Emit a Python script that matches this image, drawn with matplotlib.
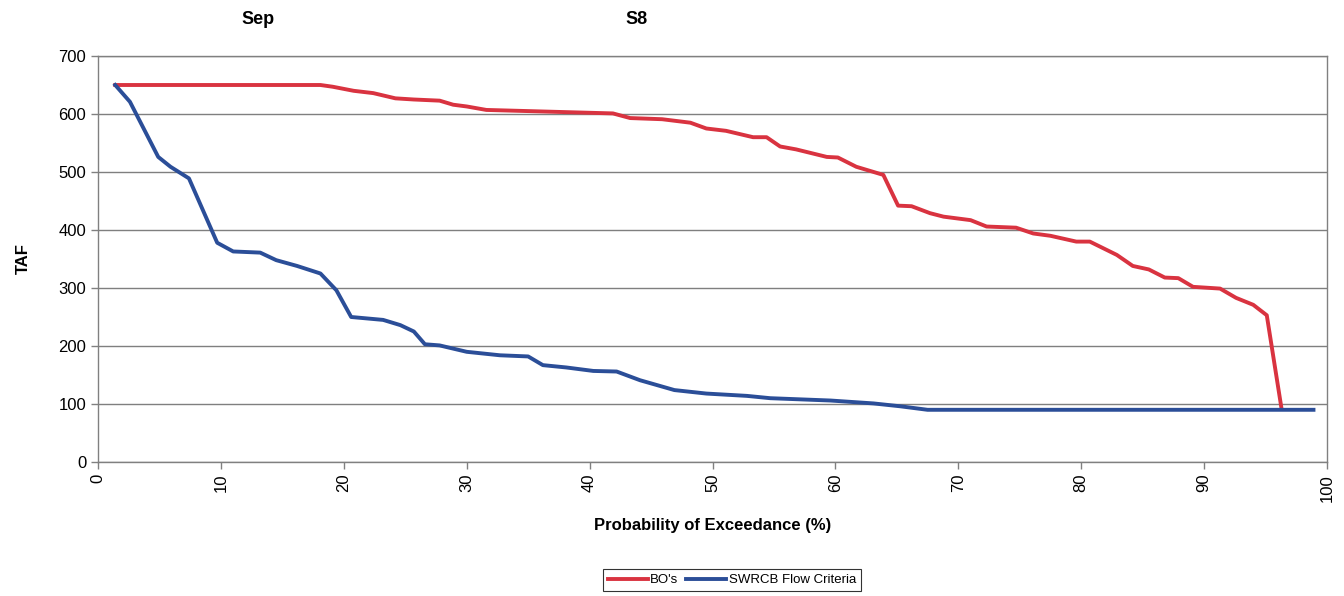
import matplotlib
matplotlib.use("Agg")
import matplotlib.pyplot as plt

plt.rcParams['font.family'] = ['Liberation Sans', 'DejaVu Sans']

# BO's series (probability of exceedance %, TAF)
bo_x = [1.4, 18.1, 19.1, 20.8, 22.4, 24.2, 25.7, 27.8, 28.9, 30.0, 31.6, 41.9, 43.3, 45.9,
        48.2, 49.5, 51.1, 53.3, 54.4, 55.5, 56.8, 59.3, 60.2, 61.7, 63.9, 65.1, 66.2, 67.7,
        68.8, 71.0, 72.3, 74.7, 76.1, 77.5, 79.6, 80.7, 82.9, 84.2, 85.5, 86.8, 87.9, 89.1,
        91.3, 92.6, 94.0, 95.1, 96.3]
bo_y = [650, 650, 647, 640, 636, 627, 625, 623, 616, 613, 607, 601, 593, 591,
        585, 575, 571, 560, 560, 544, 539, 526, 525, 509, 495, 442, 441, 429,
        423, 417, 406, 404, 394, 390, 380, 380, 357, 338, 332, 318, 317, 302,
        299, 283, 271, 253, 92]

# SWRCB Flow Criteria series
sw_x = [1.4, 2.6, 4.9, 5.9, 7.4, 9.7, 11.0, 13.2, 14.5, 16.2, 18.1, 19.4, 20.6, 23.2,
        24.6, 25.7, 26.6, 27.8, 30.0, 32.7, 35.0, 36.2, 38.1, 40.3, 42.2, 44.1, 46.9,
        49.5, 52.8, 54.7, 59.6, 63.1, 65.3, 67.5, 98.9]
sw_y = [650, 621, 526, 509, 489, 378, 363, 361, 348, 338, 325, 296, 250, 245,
        236, 225, 203, 201, 190, 184, 182, 167, 163, 157, 156, 141, 124,
        118, 114, 110, 106, 101, 96, 90, 90]

x_ticks = list(range(0, 101, 10))
y_ticks = list(range(0, 701, 100))

fig = plt.figure(figsize=(13.44, 5.96), dpi=100)
ax = fig.add_axes([98/1344, 1 - 462/596, (1327-98)/1344, (462-56)/596])

ax.set_xlim(0, 100)
ax.set_ylim(0, 700)
ax.set_yticks(y_ticks)
ax.set_xticks(x_ticks)
ax.set_xticklabels([str(t) for t in x_ticks], rotation=90, fontsize=12)
ax.set_yticklabels([str(t) for t in y_ticks], fontsize=12)
ax.yaxis.grid(True, color='#7f7f7f', linewidth=1.0)
ax.set_axisbelow(True)
for s in ['left', 'bottom', 'right', 'top']:
    ax.spines[s].set_color('#808080')
    ax.spines[s].set_linewidth(1.0)
ax.tick_params(axis='both', colors='#808080', labelcolor='black', length=5, width=1)

ax.plot(bo_x, bo_y, color='#d93340', linewidth=2.8, label="BO's", zorder=3)
ax.plot(sw_x, sw_y, color='#2b4e98', linewidth=2.8, label='SWRCB Flow Criteria', zorder=4)

ax.set_ylabel('TAF', fontsize=12, fontweight='bold', labelpad=20)
ax.set_xlabel('Probability of Exceedance (%)', fontsize=12, fontweight='bold', labelpad=12)

fig.text(258/1344, 1 - 20/596, 'Sep', fontsize=13, fontweight='bold', ha='center', va='center')
fig.text(637/1344, 1 - 20/596, 'S8', fontsize=13, fontweight='bold', ha='center', va='center')

leg = fig.legend(loc='center', bbox_to_anchor=(732/1344, 1 - 580/596), ncol=2, fontsize=9.5,
                 frameon=True, fancybox=False, edgecolor='black', handlelength=3,
                 columnspacing=0.6, handletextpad=0.2, borderpad=0.4)
leg.get_frame().set_linewidth(0.8)

fig.savefig('out.png', dpi=100)
